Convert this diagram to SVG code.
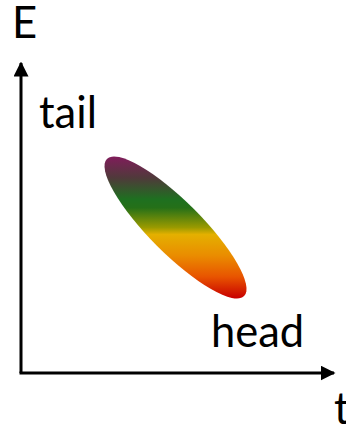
<svg xmlns="http://www.w3.org/2000/svg" width="346" height="428" viewBox="0 0 346 428">
<style>
.lbl{font-family:Lato,"Open Sans","Liberation Sans",sans-serif;font-size:43.5px;fill:#000}
.ax{stroke:#000;stroke-width:3;fill:none}
</style>
<defs>
<marker id="ah" viewBox="0 0 10 10" refX="9" refY="5" markerWidth="5" markerHeight="5" orient="auto" markerUnits="strokeWidth">
<path d="M0,0 L10,5 L0,10 Z" fill="#000"/>
</marker>
<linearGradient id="g" gradientUnits="userSpaceOnUse" x1="0" y1="157" x2="0" y2="298" gradientTransform="rotate(-45 175.5 227.5)">
<stop offset="0" stop-color="#7f1d5a"/>
<stop offset="0.15" stop-color="#4f3a3a"/>
<stop offset="0.3" stop-color="#1e7020"/>
<stop offset="0.36" stop-color="#257018"/>
<stop offset="0.5" stop-color="#9a9a00"/>
<stop offset="0.55" stop-color="#e4b000"/>
<stop offset="0.7" stop-color="#ea8c00"/>
<stop offset="0.85" stop-color="#e85400"/>
<stop offset="1" stop-color="#c80000"/>
</linearGradient>
</defs>
<g id="connectors">
<path class="ax" d="M21,373 L21,63" marker-end="url(#ah)"/>
<path class="ax" d="M19.5,373 L334,373" marker-end="url(#ah)"/>
</g>
<g id="blob">
<ellipse cx="175.5" cy="227.5" rx="97" ry="26" transform="rotate(45 175.5 227.5)" fill="url(#g)"/>
</g>
<g id="labels">
<text class="lbl" x="12" y="37.5">E</text>
<text class="lbl" x="39" y="128">tail</text>
<text class="lbl" x="211" y="347">head</text>
<text class="lbl" x="334" y="424">t</text>
</g>
</svg>
